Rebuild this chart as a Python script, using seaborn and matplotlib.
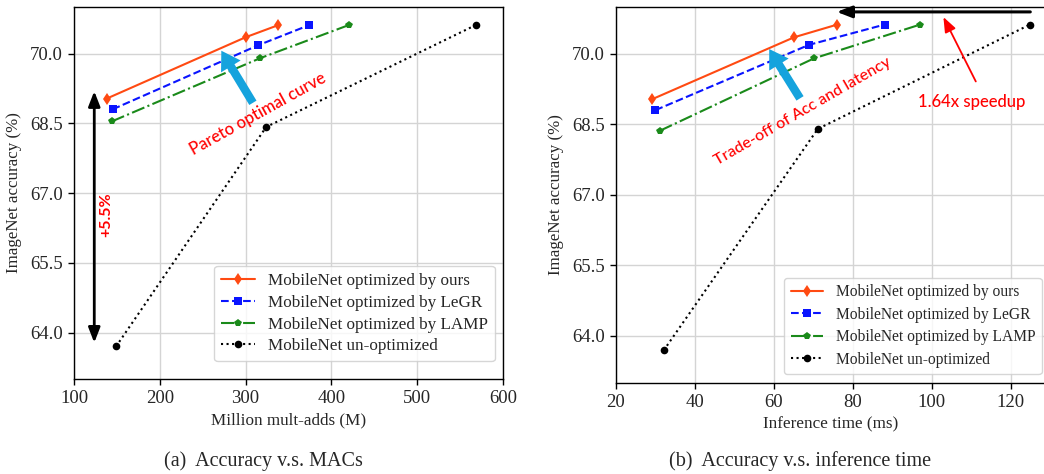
import numpy as np
import pandas as pd
import matplotlib
matplotlib.use("Agg")
import matplotlib.pyplot as plt
import seaborn as sns

# ---- data ----
series_names = ["MobileNet optimized by ours", "MobileNet optimized by LeGR",
                "MobileNet optimized by LAMP", "MobileNet un-optimized"]

macs_ours = [138, 300, 338]
macs_legr = [145, 315, 374]
macs_lamp = [144, 317, 420]
macs_unopt = [149, 324, 568]

acc_a_ours = [69.03, 70.35, 70.61]
acc_a_legr = [68.80, 70.18, 70.61]
acc_a_lamp = [68.54, 69.90, 70.61]
acc_a_unopt = [63.70, 68.42, 70.61]

lat_ours = [29.1, 65.1, 76.0]
lat_legr = [30.0, 68.9, 88.0]
lat_lamp = [31.1, 70.1, 97.0]
lat_unopt = [32.1, 71.1, 124.8]

acc_b_ours = [69.03, 70.35, 70.62]
acc_b_legr = [68.80, 70.19, 70.62]
acc_b_lamp = [68.36, 69.90, 70.62]
acc_b_unopt = [63.69, 68.40, 70.62]

yticks = [64.0, 65.5, 67.0, 68.5, 70.0]
xticks_a = [100, 200, 300, 400, 500, 600]
xticks_b = [20, 40, 60, 80, 100, 120]

styles = {
    series_names[0]: dict(color="#ff4a12", marker="d", linestyle="-", ms=6.5),
    series_names[1]: dict(color="#0a14ff", marker="s", linestyle="--", ms=6),
    series_names[2]: dict(color="#1a8a1a", marker="p", linestyle="-.", ms=6),
    series_names[3]: dict(color="black", marker="o", linestyle=":", ms=5.5),
}

sns.set_style("whitegrid")
plt.rcParams["font.family"] = ["Liberation Serif", "DejaVu Serif"]
plt.rcParams["mathtext.fontset"] = "stix"

fig = plt.figure(figsize=(10.44, 4.74), dpi=100)
axA = fig.add_axes([0.0709, 0.2004, 0.4109, 0.7848])
axB = fig.add_axes([0.5900, 0.1926, 0.4105, 0.7932])

def make_df(xs, ys):
    rows = []
    for name, x, y in zip(series_names, xs, ys):
        for xi, yi in zip(x, y):
            rows.append((name, xi, yi))
    return pd.DataFrame(rows, columns=["series", "x", "y"])

dfA = make_df([macs_ours, macs_legr, macs_lamp, macs_unopt],
              [acc_a_ours, acc_a_legr, acc_a_lamp, acc_a_unopt])
dfB = make_df([lat_ours, lat_legr, lat_lamp, lat_unopt],
              [acc_b_ours, acc_b_legr, acc_b_lamp, acc_b_unopt])

def draw(ax, df, legend_fs, hl, htp, lsp, anchor):
    for name in series_names:
        st = styles[name]
        sub = df[df.series == name]
        sns.lineplot(data=sub, x="x", y="y", ax=ax, color=st["color"],
                     marker=st["marker"], linestyle=st["linestyle"],
                     markersize=st["ms"], markeredgewidth=0, lw=1.5,
                     label=name, sort=False)
    ax.set_ylim(63.0, 71.0)
    ax.set_yticks(yticks)
    ax.set_yticklabels([f"{v:.1f}" for v in yticks])
    ax.grid(True, color="#d4d4d4", lw=1.0)
    for s in ax.spines.values():
        s.set_color("black")
        s.set_linewidth(1.0)
    ax.tick_params(axis="both", which="major", direction="out", length=4,
                   width=1, color="black", labelsize=13.5, bottom=True, left=True,
                   pad=4)
    ax.set_ylabel("ImageNet accuracy (%)", fontsize=12.2, labelpad=6)
    ax.legend(loc="lower right", bbox_to_anchor=anchor, fontsize=legend_fs,
              frameon=True, framealpha=0.8, edgecolor="#cccccc", fancybox=True,
              handlelength=hl, handletextpad=htp, borderaxespad=0.0,
              labelspacing=lsp, borderpad=0.4)

draw(axA, dfA, 12.3, 2.0, 0.75, 0.34, (0.981, 0.048))
draw(axB, dfB, 11.2, 2.1, 0.8, 0.42, (0.993, 0.023))

axA.set_xlim(100, 600)
axA.set_xticks(xticks_a)
axA.set_xlabel("Million mult-adds (M)", fontsize=12.3, labelpad=4)

axB.set_xlim(20, 128.5)
axB.set_xticks(xticks_b)
axB.set_xlabel("Inference time (ms)", fontsize=12.3, labelpad=4)

red_font = ["Lato", "DejaVu Sans"]
cyan = "#15a3dd"

# ---- annotations (a) ----
axA.annotate("", xy=(123.6, 63.78), xytext=(123.6, 69.19),
             arrowprops=dict(arrowstyle="<|-|>,head_width=0.35,head_length=0.9",
                             color="black", lw=2.0, shrinkA=0, shrinkB=0))
axA.text(137, 66.53, "+5.5%", color="red", rotation=90, fontsize=11.5,
         family=red_font, ha="center", va="center", fontweight="bold")
axA.annotate("", xy=(271.7, 70.06), xytext=(308.5, 68.94),
             arrowprops=dict(arrowstyle="simple,head_width=1.5,head_length=1.2,tail_width=0.55",
                             color=cyan, lw=0, shrinkA=0, shrinkB=0, mutation_scale=11))
axA.text(314, 68.69, "Pareto optimal curve", color="red", rotation=29,
         fontsize=12, family=red_font, ha="center", va="center",
         rotation_mode="anchor", fontweight="medium")

# ---- annotations (b) ----
axB.annotate("", xy=(75.9, 70.89), xytext=(124.9, 70.89),
             arrowprops=dict(arrowstyle="-|>,head_width=0.35,head_length=0.9",
                             color="black", lw=2.2, shrinkA=0, shrinkB=0))
axB.annotate("", xy=(102.9, 70.78), xytext=(111.1, 69.41),
             arrowprops=dict(arrowstyle="-|>,head_width=0.35,head_length=0.9",
                             color="red", lw=1.3, shrinkA=0, shrinkB=0))
axB.text(110.0, 68.98, "1.64x speedup", color="red", fontsize=12,
         family=red_font, ha="center", va="center", fontweight="medium")
axB.annotate("", xy=(58.8, 70.10), xytext=(66.6, 69.05),
             arrowprops=dict(arrowstyle="simple,head_width=1.5,head_length=1.2,tail_width=0.55",
                             color=cyan, lw=0, shrinkA=0, shrinkB=0, mutation_scale=11))
axB.text(67.3, 68.76, "Trade-off of Acc and latency", color="red", rotation=30,
         fontsize=11.5, family=red_font, ha="center", va="center",
         rotation_mode="anchor", fontweight="medium")

# ---- captions ----
fig.text(263 / 1044, 1 - 461 / 474, "(a)  Accuracy v.s. MACs", fontsize=14.5,
         ha="center", va="center")
fig.text(800 / 1044, 1 - 461 / 474, "(b)  Accuracy v.s. inference time", fontsize=14.5,
         ha="center", va="center")

fig.savefig("out.png", dpi=100)
